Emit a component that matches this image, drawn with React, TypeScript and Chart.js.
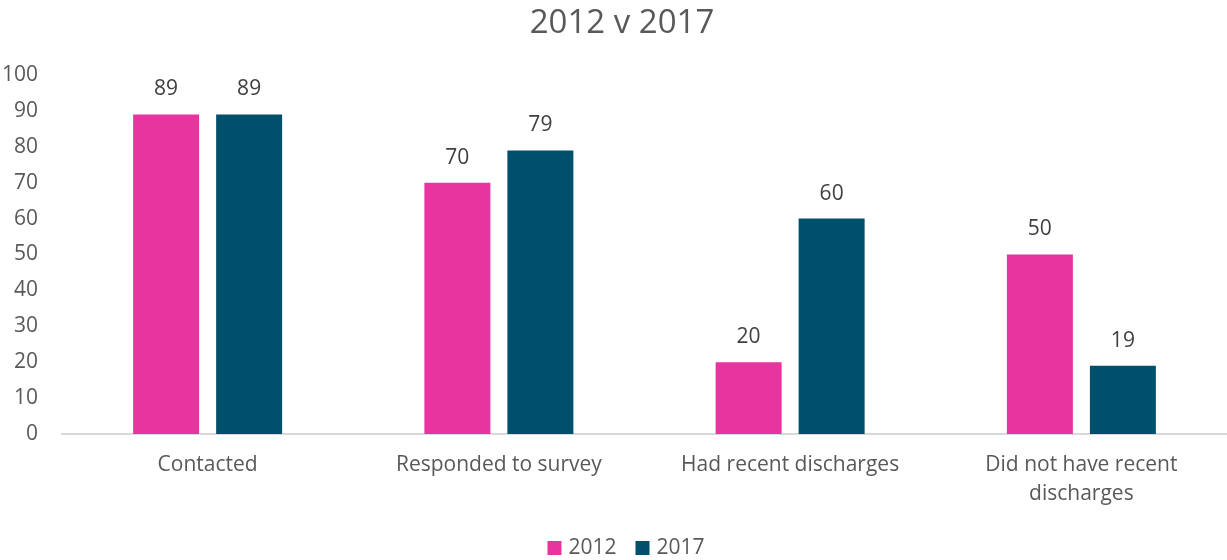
import React, { useEffect, useRef } from "react";
import { Chart, registerables } from "chart.js";

Chart.register(...registerables);

const categories: (string | string[])[] = [
  "Contacted",
  "Responded to survey",
  "Had recent discharges",
  ["Did not have recent", "discharges"],
];
const values2012 = [89, 70, 20, 50];
const values2017 = [89, 79, 60, 19];
const seriesLabels = ["2012", "2017"];
const titleText = "2012 v 2017";

const PINK = "#E8349F";
const TEAL = "#00506B";
const FONT = "'Open Sans', sans-serif";

const dataLabelPlugin = {
  id: "dataLabels",
  afterDatasetsDraw(chart: any) {
    const ctx = chart.ctx;
    ctx.save();
    ctx.font = `21px ${FONT}`;
    ctx.fillStyle = "#404040";
    ctx.textAlign = "center";
    ctx.textBaseline = "middle";
    chart.data.datasets.forEach((ds: any, i: number) => {
      const meta = chart.getDatasetMeta(i);
      meta.data.forEach((el: any, j: number) => {
        ctx.fillText(String(ds.data[j]), el.x, el.y - 25);
      });
    });
    ctx.restore();
  },
};

const titleLegendPlugin = {
  id: "titleLegend",
  afterDraw(chart: any) {
    const ctx = chart.ctx;
    ctx.save();
    // title
    ctx.font = `33px ${FONT}`;
    ctx.fillStyle = "#595959";
    ctx.textAlign = "center";
    ctx.textBaseline = "alphabetic";
    ctx.fillText(titleText, 622, 33);
    // legend
    ctx.font = `21px ${FONT}`;
    ctx.textBaseline = "middle";
    ctx.textAlign = "left";
    const box = 14;
    const gap = 7;
    const itemGap = 19;
    const items = chart.data.datasets.map((ds: any) => ({
      label: ds.label,
      color: ds.backgroundColor,
      w: ctx.measureText(ds.label).width,
    }));
    const total =
      items.reduce((s: number, it: any) => s + box + gap + it.w, 0) + itemGap * (items.length - 1);
    let x = 626 - total / 2;
    const y = 548;
    items.forEach((it: any) => {
      ctx.fillStyle = it.color;
      ctx.fillRect(x, y - box / 2, box, box);
      x += box + gap;
      ctx.fillStyle = "#595959";
      ctx.fillText(it.label, x, y);
      x += it.w + itemGap;
    });
    ctx.restore();
  },
};

export default function App() {
  const ref = useRef<HTMLCanvasElement | null>(null);
  useEffect(() => {
    if (!ref.current) return;
    const chart = new Chart(ref.current, {
      type: "bar",
      data: {
        labels: categories,
        datasets: [
          {
            label: seriesLabels[0],
            data: values2012,
            backgroundColor: PINK,
            barPercentage: 0.795,
            categoryPercentage: 0.57,
          },
          {
            label: seriesLabels[1],
            data: values2017,
            backgroundColor: TEAL,
            barPercentage: 0.795,
            categoryPercentage: 0.57,
          },
        ],
      },
      options: {
        responsive: false,
        animation: false,
        layout: { padding: { left: 0, right: 0, top: 75, bottom: 28 } },
        plugins: {
          title: { display: false },
          legend: { display: false },
          tooltip: { enabled: false },
        },
        scales: {
          x: {
            afterFit(scale: any) {
              scale.height = 98;
            },
            grid: { display: false, drawTicks: false },
            border: { display: true, color: "#D9D9D9", width: 2 },
            ticks: {
              color: "#595959",
              font: { family: FONT, size: 21, lineHeight: 1.4 },
              padding: 16,
              maxRotation: 0,
              autoSkip: false,
            },
          },
          y: {
            min: 0,
            max: 100,
            afterFit(scale: any) {
              scale.width = 62;
            },
            grid: { display: false, drawTicks: false },
            border: { display: false },
            ticks: {
              stepSize: 10,
              color: "#595959",
              font: { family: FONT, size: 21 },
              padding: 24,
            },
          },
        },
      },
      plugins: [dataLabelPlugin, titleLegendPlugin],
    });
    return () => chart.destroy();
  }, []);
  return (
    <div style={{ position: "absolute", left: 0, top: 0, width: 1227, height: 560, background: "#fff" }}>
      <canvas ref={ref} width={1227} height={560} />
    </div>
  );
}
